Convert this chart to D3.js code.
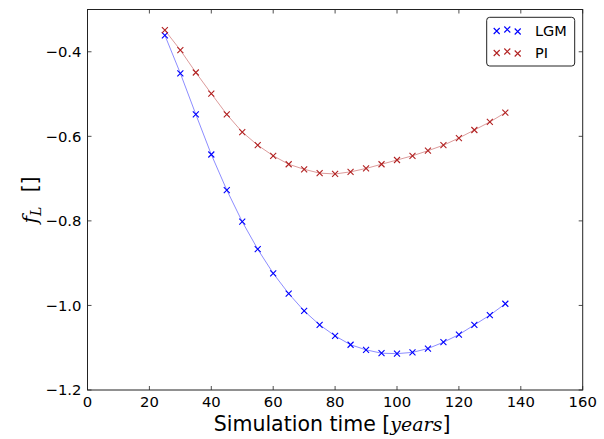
<!DOCTYPE html>
<html><head><meta charset="utf-8">
<script src="https://cdn.jsdelivr.net/npm/d3@7"></script>
<style>body{margin:0;background:#fff}svg{display:block}</style>
</head><body>
<svg id="c" width="604" height="439"></svg>
<script>
const years = [25,30,35,40,45,50,55,60,65,70,75,80,85,90,95,100,105,110,115,120,125,130,135];
const lgm = [-0.361,-0.451,-0.548,-0.643,-0.727,-0.802,-0.867,-0.924,-0.972,-1.013,-1.046,-1.072,-1.093,-1.105,-1.113,-1.114,-1.111,-1.102,-1.087,-1.069,-1.046,-1.023,-0.996];
const pi  = [-0.349,-0.396,-0.449,-0.499,-0.548,-0.590,-0.621,-0.646,-0.666,-0.678,-0.687,-0.689,-0.684,-0.676,-0.666,-0.656,-0.646,-0.634,-0.621,-0.604,-0.585,-0.566,-0.544];
const xTicks = [0,20,40,60,80,100,120,140,160];
const yTicks = [-1.2,-1.0,-0.8,-0.6,-0.4];
const seriesNames = ["LGM","PI"];
const seriesColors = ["#0000ff","#b22222"];

const svg = d3.select("#c");
const L=87.5, T=9.5, R=582.7, B=390;
const x = d3.scaleLinear().domain([0,160]).range([L,R]);
const y = d3.scaleLinear().domain([-1.2,-0.3]).range([B,T]);
const font = "DejaVu Sans, sans-serif";
const fmtY = d => (d<0?"\u2212":"") + Math.abs(d).toFixed(1);

const g = svg.append("g");
const tk = 4, tc = "#222";
xTicks.forEach(t=>{
  g.append("line").attr("x1",x(t)).attr("x2",x(t)).attr("y1",B).attr("y2",B-tk).attr("stroke",tc).attr("stroke-width",0.8);
  g.append("line").attr("x1",x(t)).attr("x2",x(t)).attr("y1",T).attr("y2",T+tk).attr("stroke",tc).attr("stroke-width",0.8);
  g.append("text").attr("x",x(t)).attr("y",B+16.5).attr("text-anchor","middle").attr("font-family",font).attr("font-size",14.8).attr("fill","#000").text(t);
});
yTicks.forEach(t=>{
  g.append("line").attr("x1",L).attr("x2",L+tk).attr("y1",y(t)).attr("y2",y(t)).attr("stroke",tc).attr("stroke-width",0.8);
  g.append("line").attr("x1",R).attr("x2",R-tk).attr("y1",y(t)).attr("y2",y(t)).attr("stroke",tc).attr("stroke-width",0.8);
  g.append("text").attr("x",L-6).attr("y",y(t)+5.2).attr("text-anchor","end").attr("font-family",font).attr("font-size",14.8).attr("fill","#000").text(fmtY(t));
});

const data = [lgm, pi];
const line = d3.line().x((d,i)=>x(years[i])).y(d=>y(d));
const ms = 3;
data.forEach((vals,k)=>{
  const col = seriesColors[k];
  svg.append("path").datum(vals).attr("d",line).attr("fill","none").attr("stroke",col).attr("stroke-opacity",0.5).attr("stroke-width",0.9);
  svg.append("g").selectAll("path").data(vals).join("path")
    .attr("d",(d,i)=>{const cx=x(years[i]), cy=y(d); return `M${cx-ms},${cy-ms}L${cx+ms},${cy+ms}M${cx-ms},${cy+ms}L${cx+ms},${cy-ms}`;})
    .attr("stroke",col).attr("stroke-width",1.1);
});

svg.append("rect").attr("x",L).attr("y",T).attr("width",R-L).attr("height",B-T).attr("fill","none").attr("stroke","#222").attr("stroke-width",1);

const lg = svg.append("g");
lg.append("rect").attr("x",486.7).attr("y",17.3).attr("width",88).attr("height",48.7).attr("rx",3).attr("fill","#fff").attr("stroke","#222").attr("stroke-width",1);
const offs = [[496.7,0.5],[507.3,-1],[517.7,1]];
seriesNames.forEach((n,k)=>{
  const cy = 30.5 + k*22;
  offs.forEach(([cx,dy])=>{
    const yy=cy+dy;
    lg.append("path").attr("d",`M${cx-ms},${yy-ms}L${cx+ms},${yy+ms}M${cx-ms},${yy+ms}L${cx+ms},${yy-ms}`).attr("stroke",seriesColors[k]).attr("stroke-width",1.1);
  });
  lg.append("text").attr("x",535).attr("y",cy+5.5).attr("font-family",font).attr("font-size",14.5).attr("fill","#000").text(n);
});

const xl = svg.append("text").attr("x",(L+R)/2 - 3).attr("y",431).attr("text-anchor","middle").attr("font-family",font).attr("font-size",20.5).attr("fill","#000");
xl.append("tspan").text("Simulation time [");
xl.append("tspan").attr("font-family","DejaVu Serif, serif").attr("font-style","italic").attr("font-size",19).text("years");
xl.append("tspan").text("]");

const yl = svg.append("text").attr("transform","translate(37,200) rotate(-90)").attr("text-anchor","middle").attr("font-family",font).attr("font-size",20.5).attr("fill","#000");
yl.append("tspan").attr("font-family","DejaVu Serif, serif").attr("font-style","italic").text("f");
yl.append("tspan").attr("font-family","DejaVu Serif, serif").attr("font-style","italic").attr("font-size",14).attr("dy",4).text("L");
yl.append("tspan").attr("dy",-4).text("\u2002\u2009[]");
</script>
</body></html>
